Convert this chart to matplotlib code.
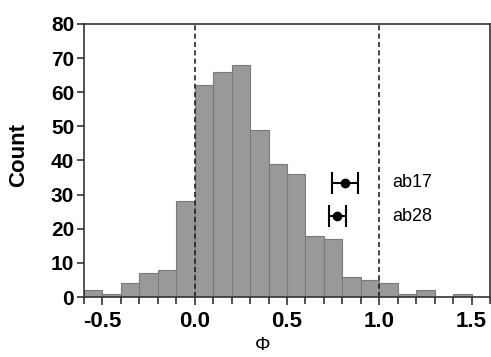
import numpy as np
import matplotlib.pyplot as plt

# histogram data (bins of width 0.1 from -0.6 to 1.6)
bin_left = np.round(np.arange(-0.6, 1.6, 0.1), 2)
counts = [2, 1, 4, 7, 8, 28, 62, 66, 68, 49, 39, 36, 18, 17, 6, 5, 4, 1, 2, 0, 1, 0]

# measured points with errors
names = ['ab17', 'ab28']
phi = [0.815, 0.773]
phi_err = [0.072, 0.048]
point_y = [33.5, 23.7]

plt.rcParams['font.family'] = ['Liberation Sans', 'DejaVu Sans']

fig = plt.figure(figsize=(4.91, 3.57), dpi=100)
ax = fig.add_axes([0.171, 0.168, 0.827, 0.765])

ax.bar(bin_left, counts, width=0.1, align='edge', color='#999999',
       edgecolor='#7a7a7a', linewidth=0.8)

# dashed reference lines
ax.axvline(0.0, color='#222222', linestyle=(0, (3, 2)), linewidth=1.2)
ax.axvline(1.0, color='#222222', linestyle=(0, (3, 2)), linewidth=1.2)

ax.errorbar(phi, point_y, xerr=phi_err, fmt='o', color='black', markersize=6,
            capsize=8, capthick=1.5, elinewidth=1.5)
for n, y in zip(names, point_y):
    ax.text(1.072, y, n, fontsize=13, va='center', ha='left')

ax.set_xlim(-0.6, 1.6)
ax.set_ylim(0, 80)
ax.set_xticks([-0.5, 0.0, 0.5, 1.0, 1.5])
ax.set_xticks(np.round(np.arange(-0.6, 1.61, 0.1), 2), minor=True)
ax.set_yticks(range(0, 81, 10))
ax.set_xticklabels(['-0.5', '0.0', '0.5', '1.0', '1.5'], fontsize=16, fontweight='bold')
ax.set_yticklabels([str(v) for v in range(0, 81, 10)], fontsize=15, fontweight='bold')
ax.tick_params(axis='both', which='both', direction='out', width=1.2, color='#333333')
ax.tick_params(axis='x', which='major', length=6, pad=4)
ax.tick_params(axis='x', which='minor', length=5)
ax.tick_params(axis='y', length=5, pad=2)
for s in ax.spines.values():
    s.set_linewidth(1.2)
    s.set_color('#333333')

ax.set_ylabel('Count', fontsize=16, fontweight='bold')
ax.yaxis.set_label_coords(-0.135, 0.52)
ax.set_xlabel('Φ', fontsize=14)
ax.xaxis.set_label_coords(0.44, -0.145)

fig.savefig('out.png', dpi=100)
